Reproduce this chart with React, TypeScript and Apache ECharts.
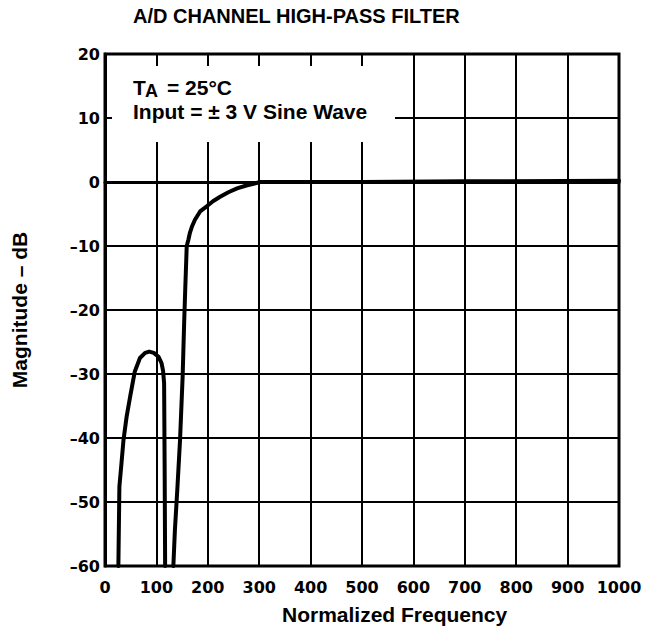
import React, { useEffect, useRef } from "react";
import * as echarts from "echarts";

const xTicks = [0, 100, 200, 300, 400, 500, 600, 700, 800, 900, 1000];
const yTicks = [-60, -50, -40, -30, -20, -10, 0, 10, 20];

const lowBandFreq = [26, 28, 32, 36, 42, 49, 58, 68, 78, 86, 95, 104, 110, 113, 115, 116, 117];
const lowBandDb = [-60, -47.6, -44, -40.3, -36.7, -33.5, -29.6, -27.5, -26.7, -26.5, -26.7, -27.3, -28.3, -29.5, -31.4, -44, -60];

const passBandFreq = [133, 136, 141, 146, 151, 154, 156, 159, 162, 165, 169, 175, 185, 198, 210, 224, 240, 257, 275, 289, 302, 350, 500, 700, 1000];
const passBandDb = [-60, -54.4, -47.6, -40.3, -30.5, -22, -17, -10, -9.1, -8.0, -7.0, -5.9, -4.6, -3.8, -3.0, -2.3, -1.6, -1.0, -0.55, -0.27, 0, 0, 0, 0.1, 0.2];

const titleText = "A/D CHANNEL HIGH-PASS FILTER";
const xName = "Normalized Frequency";
const yName = "Magnitude – dB";

const FONT = "'Liberation Sans', Arial, sans-serif";
const TICK_FONT = "'DejaVu Sans', sans-serif";

export default function App() {
  const ref = useRef<HTMLDivElement>(null);
  useEffect(() => {
    if (!ref.current) return;
    const chart = echarts.init(ref.current, undefined, { renderer: "svg" });
    const fmt = (v: number) => (v < 0 ? "–" + Math.abs(v) : String(v));
    chart.setOption({
      animation: false,
      backgroundColor: "#fff",
      textStyle: { fontFamily: FONT },
      grid: {
        left: 105,
        top: 54,
        width: 514,
        height: 512,
        show: true,
        borderColor: "#000",
        borderWidth: 3,
        containLabel: false,
      },
      xAxis: {
        type: "value",
        min: xTicks[0],
        max: xTicks[xTicks.length - 1],
        interval: 100,
        axisLine: { show: true, lineStyle: { color: "#000", width: 3 } },
        axisTick: { show: false },
        splitLine: { show: true, lineStyle: { color: "#000", width: 2 } },
        axisLabel: {
          color: "#000",
          fontSize: 16,
          fontWeight: "bold",
          fontFamily: TICK_FONT,
          margin: 13,
          formatter: fmt,
        },
      },
      yAxis: {
        type: "value",
        min: yTicks[0],
        max: yTicks[yTicks.length - 1],
        interval: 10,
        axisLine: { show: true, lineStyle: { color: "#000", width: 3 } },
        axisTick: { show: false },
        splitLine: { show: true, lineStyle: { color: "#000", width: 2 } },
        axisLabel: {
          color: "#000",
          fontSize: 16,
          fontWeight: "bold",
          fontFamily: TICK_FONT,
          margin: 5,
          padding: [5, 0, 0, 0],
          formatter: fmt,
        },
        name: yName,
        nameLocation: "middle",
        nameGap: 75,
        nameTextStyle: { color: "#000", fontSize: 21, fontWeight: "bold", fontFamily: FONT },
      },
      series: [
        {
          type: "line",
          data: lowBandFreq.map((f, i) => [f, lowBandDb[i]]),
          symbol: "none",
          lineStyle: { color: "#000", width: 4, join: "round", cap: "round" },
          z: 5,
        },
        {
          type: "line",
          data: passBandFreq.map((f, i) => [f, passBandDb[i]]),
          symbol: "none",
          lineStyle: { color: "#000", width: 4, join: "round", cap: "round" },
          z: 5,
        },
      ],
      graphic: [
        {
          type: "text",
          left: 133,
          top: 6,
          style: { text: titleText, fill: "#000", font: `bold 20px ${FONT}` },
        },
        {
          type: "text",
          left: 282,
          top: 604,
          style: { text: xName, fill: "#000", font: `bold 21px ${FONT}` },
        },
        {
          type: "rect",
          shape: { x: 112, y: 66, width: 283, height: 76 },
          style: { fill: "#fff" },
          z: 10,
        },
        {
          type: "text",
          x: 133,
          y: 77,
          style: { text: "T", fill: "#000", font: `bold 21px ${FONT}` },
          z: 11,
        },
        {
          type: "text",
          x: 145,
          y: 82,
          style: { text: "A", fill: "#000", font: `bold 18px ${FONT}` },
          z: 11,
        },
        {
          type: "text",
          x: 167,
          y: 77,
          style: { text: "= 25°C", fill: "#000", font: `bold 21px ${FONT}` },
          z: 11,
        },
        {
          type: "text",
          x: 133,
          y: 101,
          style: { text: "Input = ± 3 V Sine Wave", fill: "#000", font: `bold 21px ${FONT}` },
          z: 11,
        },
      ],
    });
    return () => chart.dispose();
  }, []);
  return (
    <div
      ref={ref}
      style={{ position: "fixed", left: 0, top: 0, width: 649, height: 632 }}
    />
  );
}
